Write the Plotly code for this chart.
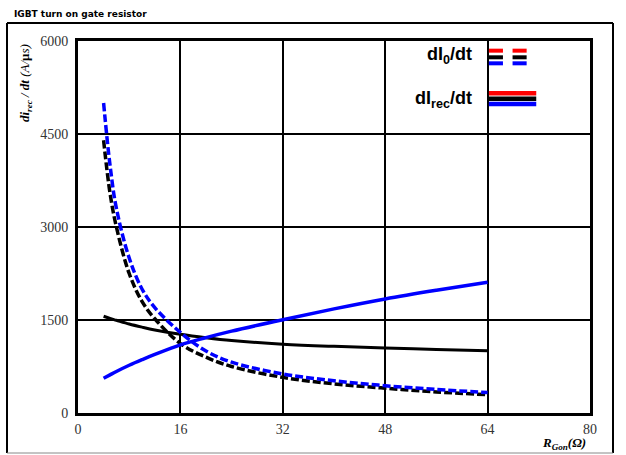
import plotly.graph_objects as go

# Gate resistance R_Gon (ohm)
r_gon = [4, 5, 6, 8, 10, 12, 16, 20, 24, 32, 40, 48, 56, 64]

# dI0/dt (dashed) curves, A/us
di0_black = [4400, 3550, 3000, 2250, 1800, 1520, 1120, 900, 750, 575, 470, 400, 340, 295]
di0_blue = [5000, 4000, 3300, 2500, 2000, 1700, 1300, 1000, 820, 630, 520, 440, 380, 330]

# dIrec/dt (solid) curves, A/us
direc_black = [1560, 1525, 1495, 1435, 1385, 1340, 1270, 1215, 1170, 1110, 1075, 1050, 1025, 1005]
direc_blue = [560, 615, 670, 770, 860, 945, 1100, 1215, 1320, 1505, 1680, 1840, 1980, 2110]

x_ticks = [0, 16, 32, 48, 64, 80]
y_ticks = [0, 1500, 3000, 4500, 6000]

SERIF = "Times New Roman, Liberation Serif, serif"

fig = go.Figure()

fig.add_trace(go.Scatter(x=r_gon, y=direc_black, mode="lines", line=dict(color="black", width=3, shape="spline")))
fig.add_trace(go.Scatter(x=r_gon, y=di0_black, mode="lines", line=dict(color="black", width=3.5, dash="8px,3px", shape="spline")))
fig.add_trace(go.Scatter(x=r_gon, y=di0_blue, mode="lines", line=dict(color="#0000ff", width=3.5, dash="8px,3px", shape="spline")))
fig.add_trace(go.Scatter(x=r_gon, y=direc_blue, mode="lines", line=dict(color="#0000ff", width=3.5, shape="spline")))

shapes = []
# legend glyphs: dashed (dI0/dt) and solid (dIrec/dt) sample lines
for col, yv in [("#ff0000", 5844), ("black", 5737), ("#0000ff", 5640)]:
    for x0, x1 in [(64.2, 66.4), (67.9, 70.1)]:
        shapes.append(dict(type="line", xref="x", yref="y", x0=x0, x1=x1, y0=yv, y1=yv,
                           line=dict(color=col, width=4)))
for col, yv in [("#ff0000", 5157), ("black", 5070), ("#0000ff", 4984)]:
    shapes.append(dict(type="line", xref="x", yref="y", x0=64.2, x1=71.6, y0=yv, y1=yv,
                       line=dict(color=col, width=4.5)))

# outer frame around the whole chart
fx0, fx1 = (7 - 78) / 512, (613 - 78) / 512
fy0, fy1 = 1 - (453 - 41) / 372, 1 - (23 - 41) / 372
shapes += [
    dict(type="line", xref="paper", yref="paper", x0=fx0, x1=fx0, y0=fy0, y1=fy1, line=dict(color="black", width=2)),
    dict(type="line", xref="paper", yref="paper", x0=fx0, x1=fx1, y0=fy1, y1=fy1, line=dict(color="black", width=2)),
    dict(type="line", xref="paper", yref="paper", x0=fx1, x1=fx1, y0=fy0, y1=fy1, line=dict(color="black", width=2)),
    dict(type="line", xref="paper", yref="paper", x0=fx0, x1=fx1, y0=fy0, y1=fy0, line=dict(color="#888", width=1)),
]

annotations = [
    dict(text="<b>IGBT turn on gate resistor</b>", xref="paper", yref="paper",
         x=(12 - 78) / 512, y=1 - (14 - 41) / 372, xanchor="left", yanchor="middle", showarrow=False,
         font=dict(family="DejaVu Sans", size=9, color="black")),
    dict(text="<b>dI<sub>0</sub>/dt</b>", xref="x", yref="y", x=61.9, y=5774,
         xanchor="right", yanchor="middle", showarrow=False,
         font=dict(family="Liberation Sans", size=18, color="black")),
    dict(text="<b>dI<sub>rec</sub>/dt</b>", xref="x", yref="y", x=61.9, y=5049,
         xanchor="right", yanchor="middle", showarrow=False,
         font=dict(family="Liberation Sans", size=18, color="black")),
    dict(text="<b><i>di<sub>rec</sub> / dt</i></b><i> (A/</i><b>μ</b><i>s)</i>", xref="paper", yref="paper",
         x=(25 - 78) / 512, y=1 - (83 - 41) / 372, xanchor="center", yanchor="middle",
         textangle=-90, showarrow=False,
         font=dict(family=SERIF, size=13, color="black")),
    dict(text="<b><i>R<sub>Gon</sub>(Ω)</i></b>", xref="paper", yref="paper",
         x=(588 - 78) / 512, y=1 - (443 - 41) / 372, xanchor="right", yanchor="middle", showarrow=False,
         font=dict(family=SERIF, size=13, color="black")),
]

fig.update_layout(
    width=626, height=455,
    margin=dict(l=78, r=36, t=41, b=42),
    paper_bgcolor="white", plot_bgcolor="white",
    showlegend=False,
    shapes=shapes,
    annotations=annotations,
    xaxis=dict(range=[0, 80], tickvals=x_ticks, showgrid=True, gridcolor="black", gridwidth=2,
               showline=True, linecolor="black", linewidth=3, mirror=True, zeroline=False,
               ticks="", ticklabelstandoff=1,
               tickfont=dict(family=SERIF, size=14, color="#333")),
    yaxis=dict(range=[0, 6000], tickvals=y_ticks, showgrid=True, gridcolor="black", gridwidth=2,
               showline=True, linecolor="black", linewidth=3, mirror=True, zeroline=False,
               ticks="", ticklabelstandoff=4,
               tickfont=dict(family=SERIF, size=14, color="#333")),
)

fig.write_html("out.html")
